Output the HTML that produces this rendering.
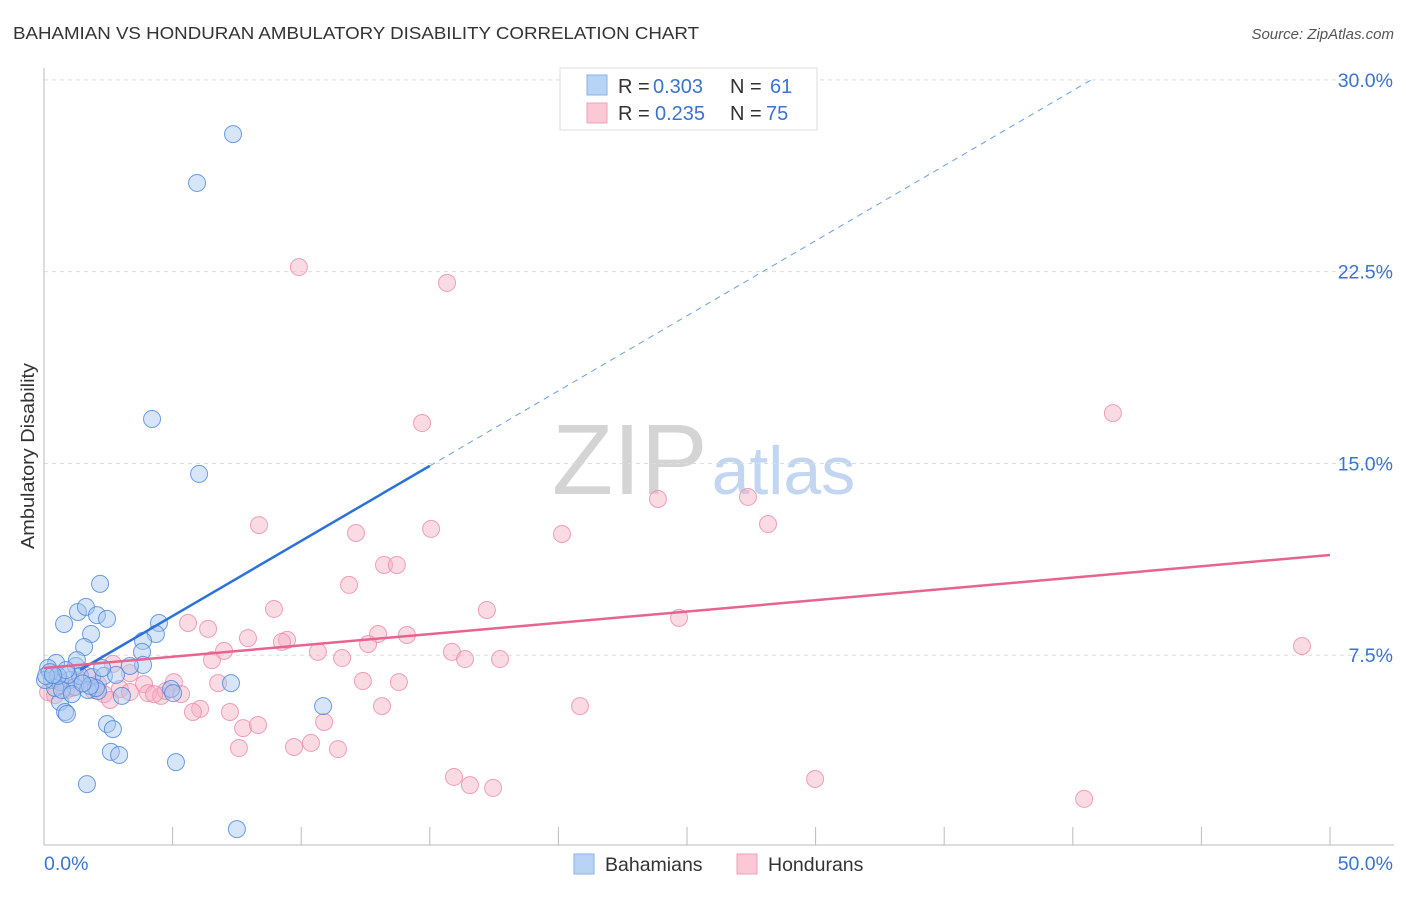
<!DOCTYPE html>
<html><head><meta charset="utf-8"><style>
body{margin:0;background:#fff;font-family:"Liberation Sans",sans-serif}
svg text{font-family:"Liberation Sans",sans-serif}
</style></head><body>
<svg id="chart" width="1406" height="892" xmlns="http://www.w3.org/2000/svg">
<text x="13" y="39" font-size="17.5" fill="#333" textLength="686" lengthAdjust="spacingAndGlyphs">BAHAMIAN VS HONDURAN AMBULATORY DISABILITY CORRELATION CHART</text>
<text x="1394" y="39" font-size="15" fill="#555" text-anchor="end" font-style="italic">Source: ZipAtlas.com</text>
<text x="552" y="494" font-size="100" font-family="Liberation Serif" fill="#d4d4d4">ZIP<tspan font-family="Liberation Sans" font-size="68" fill="#c2d6f2" dx="4">atlas</tspan></text>
<g id="grid"></g>
<g id="axes"></g>
<g id="marks"></g>
<text transform="translate(34,456) rotate(-90)" font-size="18" fill="#333" text-anchor="middle" textLength="186" lengthAdjust="spacingAndGlyphs">Ambulatory Disability</text>
<g>
<rect x="560" y="68" width="257" height="62" fill="#fff" stroke="#ddd"/>
<rect x="587" y="75" width="20" height="20" fill="#b9d3f5" stroke="#8ab0e8"/>
<text x="618" y="93" font-size="20" fill="#333">R =</text>
<text x="653" y="93" font-size="20" fill="#3b73d0">0.303</text>
<text x="730" y="93" font-size="20" fill="#333">N =</text>
<text x="770" y="93" font-size="20" fill="#3b73d0">61</text>
<rect x="587" y="103" width="20" height="20" fill="#fbc8d6" stroke="#f0a0b8"/>
<text x="618" y="120" font-size="20" fill="#333">R =</text>
<text x="655" y="120" font-size="20" fill="#3b73d0">0.235</text>
<text x="730" y="120" font-size="20" fill="#333">N =</text>
<text x="766" y="120" font-size="20" fill="#3b73d0">75</text>
</g>
<g>
<rect x="574" y="854" width="20" height="20" fill="#b9d3f5" stroke="#8ab0e8"/>
<text x="605" y="871" font-size="19.5" fill="#333">Bahamians</text>
<rect x="737" y="854" width="20" height="20" fill="#fbc8d6" stroke="#f0a0b8"/>
<text x="768" y="871" font-size="19.5" fill="#333">Hondurans</text>
</g>
</svg>
<script>
const blueX=[7.35,5.95,4.2,6.03,2.18,0.78,1.32,1.63,2.06,2.45,1.83,4.47,4.35,3.85,1.56,3.81,3.85,3.34,1.24,1.28,0.47,0.16,0.31,0.62,1.01,1.21,1.4,1.87,2.1,2.33,2.8,3.03,4.94,5.02,7.27,10.85,0.62,0.82,0.89,2.45,2.68,2.6,2.92,5.13,1.67,7.5,0.23,0.43,0.7,0.93,1.71,2.02,0.04,1.09,0.54,0.86,1.79,2.26,0.08,0.35,1.5];
const blueY=[27.88,25.97,16.74,14.59,10.29,8.72,9.19,9.39,9.07,8.92,8.33,8.76,8.33,8.06,7.82,7.63,7.12,7.08,7.08,7.31,7.2,7.0,6.53,6.45,6.53,6.26,6.69,6.65,6.1,6.69,6.73,5.91,6.18,6.02,6.41,5.51,5.67,5.28,5.2,4.81,4.61,3.72,3.6,3.32,2.46,0.7,6.84,6.22,6.14,6.73,6.14,6.22,6.53,5.98,6.69,6.92,6.3,7.0,6.69,6.73,6.4];
const pinkX=[9.91,15.67,41.56,14.7,23.87,27.37,28.15,8.36,15.05,12.13,20.14,13.22,13.72,11.86,17.22,8.94,5.6,24.69,6.38,12.99,14.11,7.93,9.45,9.25,12.6,10.65,15.86,6.53,11.59,7.0,16.37,17.73,48.91,2.68,3.34,6.77,5.05,12.4,13.8,3.89,1.91,2.95,3.34,4.04,4.55,4.74,5.33,4.28,2.33,0.86,0.16,1.4,6.07,5.79,7.23,13.14,20.84,10.89,7.74,8.32,7.58,9.72,10.38,11.43,15.94,16.56,17.46,29.98,40.44,1.67,2.1,0.62,1.09,0.43,2.57];
const pinkY=[22.68,22.06,16.97,16.58,13.61,13.69,12.63,12.59,12.44,12.28,12.24,11.03,11.03,10.25,9.27,9.31,8.76,8.96,8.53,8.33,8.29,8.17,8.1,8.02,7.94,7.63,7.63,7.31,7.39,7.67,7.35,7.35,7.86,7.16,6.8,6.41,6.45,6.49,6.45,6.37,6.14,6.18,6.06,6.02,5.91,6.1,5.98,5.98,5.98,6.14,6.06,6.53,5.4,5.28,5.28,5.51,5.51,4.89,4.65,4.77,3.87,3.91,4.07,3.83,2.74,2.42,2.31,2.66,1.88,6.69,6.37,6.53,6.22,5.94,5.75];
const yTicks=[7.5,15,22.5,30];
const yTickLabels=["7.5%","15.0%","22.5%","30.0%"];
const xTicks=[0,5,10,15,20,25,30,35,40,45,50];
const blueTrend=[6.1,0.587];
const pinkTrend=[7.0,0.0884];
const X0=44,X1=1330,Y0=847,PY=25.57;
const sx=v=>X0+v*(X1-X0)/50, sy=v=>Y0-v*PY;
const NS="http://www.w3.org/2000/svg";
function mk(tag,attrs,parent){const e=document.createElementNS(NS,tag);for(const k in attrs)e.setAttribute(k,attrs[k]);parent.appendChild(e);return e;}
const grid=document.getElementById('grid'),axes=document.getElementById('axes'),marks=document.getElementById('marks');
yTicks.forEach((t,i)=>{
 const l=mk('line',{x1:44,x2:1394,y1:sy(t),y2:sy(t),stroke:'#ddd','stroke-dasharray':'4,4'},grid);
 
 
 const tx=mk('text',{x:1393,y:sy(t)+7,'font-size':19.5,fill:'#3b73d0','text-anchor':'end'},axes);
 tx.textContent=yTickLabels[i];
 
 
});
const ya=mk('line',{x1:44,x2:44,y1:68,y2:845,stroke:'#bbb'},axes);


const xa=mk('line',{x1:44,x2:1394,y1:845,y2:845,stroke:'#bbb'},axes);


xTicks.forEach(t=>{if(t===0)return;
 const l=mk('line',{x1:sx(t),x2:sx(t),y1:827,y2:845,stroke:'#bbb'},axes);
 
 
});
const xl0=mk('text',{x:44,y:870,'font-size':19.5,fill:'#3b73d0'},axes);xl0.textContent=xTicks[0].toFixed(1)+'%';


const xl1=mk('text',{x:1393,y:870,'font-size':19.5,fill:'#3b73d0','text-anchor':'end'},axes);xl1.textContent=xTicks[xTicks.length-1].toFixed(1)+'%';


function pts(xs,ys,fill,stroke,name){xs.forEach((x,i)=>{
 const c=mk('circle',{cx:sx(x),cy:sy(ys[i]),r:8.5,fill:fill,'fill-opacity':0.45,stroke:stroke,'stroke-opacity':0.8,'stroke-width':1},marks);
 
 
});}
pts(pinkX,pinkY,'#f5b0c4','#ec8aa8','honduran-point');
pts(blueX,blueY,'#a6c6f0','#4a86dc','bahamian-point');
const bx0=1.4,bx1=15,bx2=(30-blueTrend[0])/blueTrend[1];
const bs=mk('line',{x1:sx(bx0),y1:sy(blueTrend[0]+blueTrend[1]*bx0),x2:sx(bx1),y2:sy(blueTrend[0]+blueTrend[1]*bx1),stroke:'#2a72d8','stroke-width':2.5},marks);


const bd=mk('line',{x1:sx(bx1),y1:sy(blueTrend[0]+blueTrend[1]*bx1),x2:sx(bx2),y2:sy(30),stroke:'#6a9ee0','stroke-width':1,'stroke-dasharray':'6,5'},marks);


const pl=mk('line',{x1:sx(0),y1:sy(pinkTrend[0]),x2:sx(50),y2:sy(pinkTrend[0]+pinkTrend[1]*50),stroke:'#e8638f','stroke-width':2.5},marks);


</script>
</body></html>
